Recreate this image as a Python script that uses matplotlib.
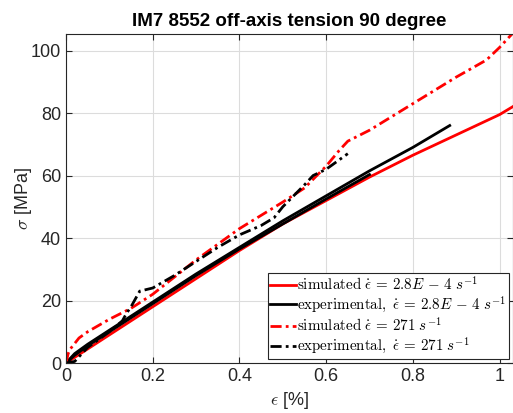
import numpy as np
import matplotlib.pyplot as plt

plt.rcParams['font.family'] = ['Liberation Sans', 'DejaVu Sans']
plt.rcParams['mathtext.fontset'] = 'cm'

# simulated, quasi-static
sim_slow_x = [0.0, 0.1, 0.2, 0.3, 0.4, 0.5, 0.6, 0.7, 0.8, 0.9, 1.0, 1.03]
sim_slow_y = [0.0, 9.0, 18.0, 27.0, 36.0, 44.5, 52.0, 59.5, 66.5, 73.0, 79.5, 82.0]

# experimental, quasi-static (two specimens)
exp_slow1_x = [0.0, 0.02, 0.05, 0.1, 0.2, 0.3, 0.4, 0.5, 0.6, 0.7, 0.8, 0.885]
exp_slow1_y = [0.0, 3.0, 6.0, 10.5, 19.5, 28.5, 37.0, 45.5, 53.5, 61.5, 69.0, 76.0]
exp_slow2_x = [0.0, 0.02, 0.05, 0.1, 0.2, 0.3, 0.4, 0.5, 0.6, 0.7]
exp_slow2_y = [0.0, 2.5, 5.5, 10.0, 19.0, 28.0, 36.5, 44.5, 52.5, 60.3]

# simulated, 271 1/s
sim_fast_x = [0.0, 0.005, 0.01, 0.03, 0.05, 0.1, 0.15, 0.2, 0.3, 0.4, 0.5, 0.55, 0.6, 0.63,
              0.65, 0.7, 0.8, 0.9, 0.97, 1.0, 1.03]
sim_fast_y = [0.0, 3.0, 4.5, 8.0, 10.0, 14.0, 17.5, 22.0, 33.0, 43.0, 51.5, 56.0, 63.0, 68.0,
              71.0, 74.5, 83.0, 91.5, 97.0, 101.0, 105.5]

# experimental, 271 1/s
exp_fast_x = [0.0, 0.02, 0.03, 0.05, 0.1, 0.13, 0.14, 0.15, 0.17, 0.2, 0.25, 0.3, 0.35, 0.4,
              0.45, 0.48, 0.5, 0.55, 0.57, 0.6, 0.65]
exp_fast_y = [0.0, 0.5, 2.0, 5.0, 10.0, 13.5, 16.0, 18.0, 23.0, 24.0, 28.0, 32.5, 37.0, 41.0,
              44.0, 46.5, 50.0, 57.0, 60.0, 62.0, 67.0]

fig = plt.figure(figsize=(5.13, 4.13), dpi=100)
ax = fig.add_axes([66 / 513, 50 / 413, 447 / 513, 329 / 413])

dashdot = (4, 1.5, 1, 1.5)
ax.plot(sim_slow_x, sim_slow_y, color='red', lw=2,
        label=r'$\mathrm{simulated}\ \dot{\epsilon}\,=\,2.8E\,-\,4\ s^{-1}$')
ax.plot(exp_slow1_x, exp_slow1_y, color='black', lw=2,
        label=r'$\mathrm{experimental,}\ \dot{\epsilon}\,=\,2.8E\,-\,4\ s^{-1}$')
ax.plot(exp_slow2_x, exp_slow2_y, color='black', lw=2)
ax.plot(sim_fast_x, sim_fast_y, color='red', lw=2, ls=(0, dashdot),
        label=r'$\mathrm{simulated}\ \dot{\epsilon}\,=\,271\ s^{-1}$')
ax.plot(exp_fast_x, exp_fast_y, color='black', lw=2, ls=(0, dashdot),
        label=r'$\mathrm{experimental,}\ \dot{\epsilon}\,=\,271\ s^{-1}$')

ax.set_xlim(0, 1.031)
ax.set_ylim(0, 105.3)
ax.set_xticks([0, 0.2, 0.4, 0.6, 0.8, 1])
ax.set_xticklabels(['0', '0.2', '0.4', '0.6', '0.8', '1'])
ax.set_yticks([0, 20, 40, 60, 80, 100])
ax.grid(True, color='#dcdcdc', lw=0.8)
ax.tick_params(labelsize=13, colors='#262626', direction='in', length=4, top=True, right=True)
for s in ax.spines.values():
    s.set_color('#262626')

ax.set_xlabel(r'$\epsilon$ [%]', fontsize=13, color='#262626', labelpad=4)
ax.set_ylabel(r'$\sigma$ [MPa]', fontsize=13, color='#262626', labelpad=-2)
ax.set_title('IM7 8552 off-axis tension 90 degree', fontsize=13.5, fontweight='bold', pad=6)

leg = ax.legend(loc='lower right', fontsize=10.8, handlelength=1.7, handletextpad=0.1,
                borderpad=0.15, labelspacing=0.1, fancybox=False, framealpha=1,
                borderaxespad=0.3)
leg.get_frame().set_edgecolor('#262626')
leg.get_frame().set_linewidth(0.8)

plt.savefig('out.png', dpi=100)
